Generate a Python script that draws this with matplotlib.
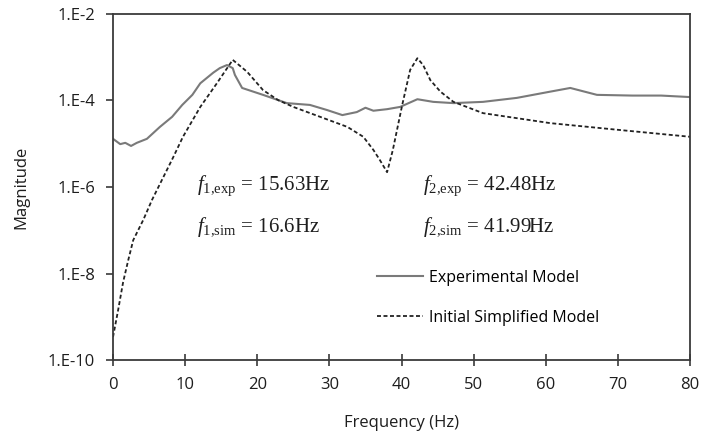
import matplotlib
matplotlib.use('Agg')
import matplotlib.pyplot as plt
from matplotlib.ticker import FixedLocator, FixedFormatter

# measured FRF (experimental) and first simplified model
freq_exp = [0, 1.0, 1.7, 2.5, 3.3, 4.7, 6.5, 8.2, 9.6, 11.0, 12.1, 13.9, 14.8, 15.8,
            16.6, 16.9, 17.9, 20.8, 24.1, 27.3, 29.7, 31.8, 33.8, 35.0, 36.1, 38.0,
            39.8, 42.2, 44.4, 47.2, 51.3, 56.0, 60.6, 63.4, 67.1, 72.0, 76.0, 80.0]
mag_exp = [1.3e-5, 9.8e-6, 1.05e-5, 8.9e-6, 1.05e-5, 1.3e-5, 2.45e-5, 4.2e-5, 7.9e-5,
           1.35e-4, 2.5e-4, 4.4e-4, 5.6e-4, 6.6e-4, 5.6e-4, 3.9e-4, 1.95e-4, 1.35e-4,
           8.7e-5, 7.9e-5, 6.0e-5, 4.6e-5, 5.4e-5, 6.8e-5, 5.8e-5, 6.3e-5, 7.1e-5,
           1.07e-4, 9.3e-5, 8.7e-5, 9.3e-5, 1.15e-4, 1.6e-4, 1.95e-4, 1.35e-4, 1.3e-4,
           1.3e-4, 1.2e-4]

freq_sim = [0, 0.7, 1.4, 2.1, 2.8, 4.2, 5.4, 8.3, 9.7, 12.1, 14.4, 16.6, 18.6, 20.8,
            22.9, 25.0, 28.7, 32.5, 34.7, 36.1, 37.0, 38.0, 38.8, 40.1, 41.2, 42.2,
            43.0, 44.0, 45.4, 47.2, 51.3, 60.6, 70.0, 80.0]
mag_sim = [3.4e-10, 1.4e-9, 6.3e-9, 2.0e-8, 5.9e-8, 1.74e-7, 5.0e-7, 4.7e-6, 1.45e-5,
           7.1e-5, 2.5e-4, 8.7e-4, 4.6e-4, 1.74e-4, 1.02e-4, 7.1e-5, 4.2e-5, 2.45e-5,
           1.45e-5, 7.2e-6, 4.2e-6, 2.2e-6, 7.2e-6, 7.9e-5, 5.1e-4, 9.5e-4, 6.6e-4,
           2.95e-4, 1.6e-4, 9.3e-5, 5.1e-5, 3.0e-5, 2.1e-5, 1.45e-5]

yticks = [1e-10, 1e-8, 1e-6, 1e-4, 1e-2]
ytick_labels = ['1.E-10', '1.E-8', '1.E-6', '1.E-4', '1.E-2']
xticks = [0, 10, 20, 30, 40, 50, 60, 70, 80]

plt.rcParams['font.family'] = ['Open Sans', 'DejaVu Sans']
plt.rcParams['mathtext.fontset'] = 'custom'
plt.rcParams['mathtext.rm'] = 'Liberation Serif'
plt.rcParams['mathtext.it'] = 'Liberation Serif:italic'

fig = plt.figure(figsize=(7.09, 4.36), dpi=100)
ax = fig.add_axes([0.1594, 0.1743, 0.8138, 0.7936])

ax.plot(freq_exp, mag_exp, color='#7a7a7a', lw=1.5, label='Experimental Model')
ax.plot(freq_sim, mag_sim, color='#222222', lw=1.3, linestyle=(0, (2.2, 1.4)),
        label='Initial Simplified Model')

ax.set_yscale('log')
ax.set_xlim(0, 80)
ax.set_ylim(1e-10, 1e-2)
ax.yaxis.set_major_locator(FixedLocator(yticks))
ax.yaxis.set_major_formatter(FixedFormatter(ytick_labels))
ax.yaxis.set_minor_locator(FixedLocator([]))
ax.xaxis.set_major_locator(FixedLocator(xticks))

for sp in ax.spines.values():
    sp.set_color('#3a3a3a')
    sp.set_linewidth(1.3)
ax.tick_params(axis='y', direction='out', length=5, width=1.2, color='#3a3a3a',
               labelsize=12, pad=8, labelcolor='#1e1e1e')
ax.tick_params(axis='x', direction='inout', length=8, width=1.2, color='#3a3a3a',
               labelsize=12, pad=8, labelcolor='#1e1e1e')

ax.set_xlabel('Frequency (Hz)', fontsize=12, color='#1e1e1e', labelpad=16)
ax.set_ylabel('Magnitude', fontsize=12, color='#1e1e1e', labelpad=13)

ann = dict(transform=ax.transAxes, fontsize=15, color='#1e1e1e', va='baseline',
           family='Liberation Serif')
ax.text(0.146, 0.490, r'$f_{1{,}\mathrm{exp}}$ = 15.63Hz', **ann)
ax.text(0.146, 0.370, r'$f_{1{,}\mathrm{sim}}$ = 16.6Hz', **ann)
ax.text(0.537, 0.490, r'$f_{2{,}\mathrm{exp}}$ = 42.48Hz', **ann)
ax.text(0.537, 0.370, r'$f_{2{,}\mathrm{sim}}$ = 41.99Hz', **ann)

ax.legend(loc='upper left', bbox_to_anchor=(0.457, 0.260), frameon=False,
          fontsize=11.5, handlelength=2.9, handletextpad=0.35, labelspacing=1.5,
          borderpad=0, borderaxespad=0)

fig.savefig('out.png', dpi=100)
